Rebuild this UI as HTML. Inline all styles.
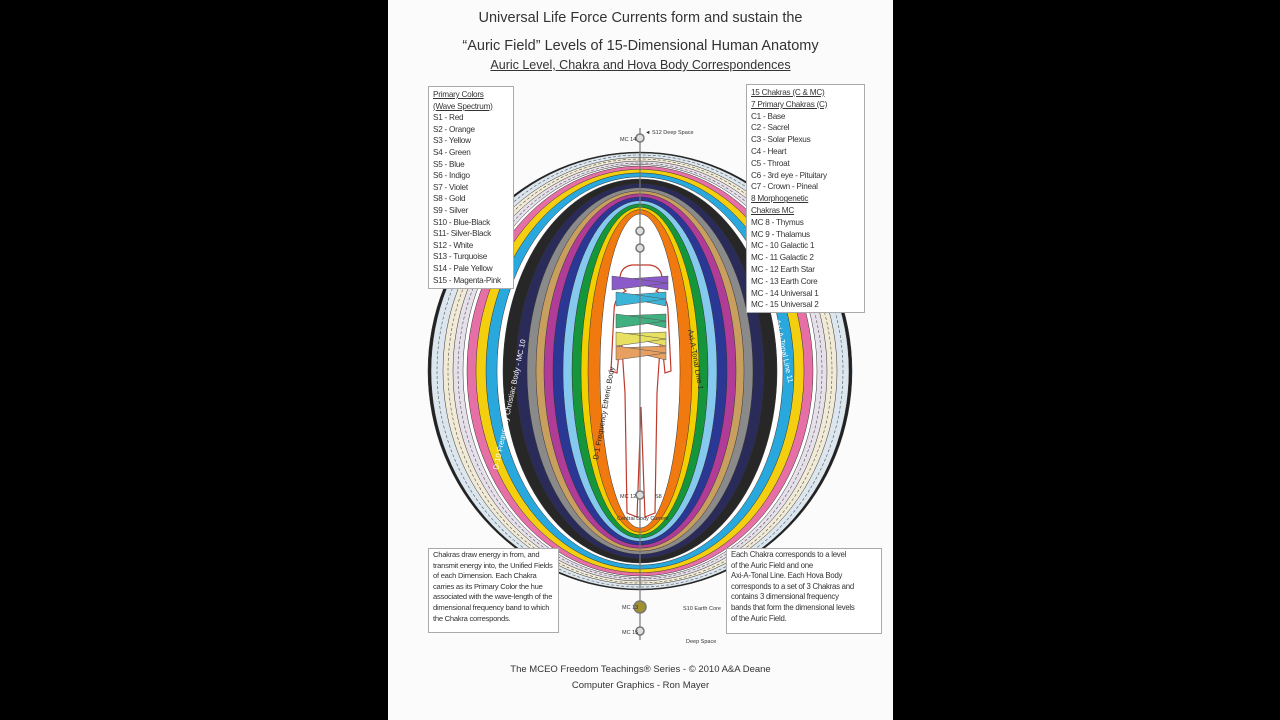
<!DOCTYPE html>
<html><head><meta charset="utf-8"><style>
body{margin:0;background:#000;width:1280px;height:720px;overflow:hidden;font-family:"Liberation Sans",sans-serif}
#pg{position:absolute;left:388px;top:0;width:505px;height:720px;background:#fbfbfb}
.t{position:absolute;left:388px;width:505px;text-align:center;color:#333}
.box{position:absolute;background:#fff;border:1px solid #aaa;font-size:8.2px;line-height:11.6px;color:#333;padding:2px 4px;box-sizing:border-box;letter-spacing:-0.25px;overflow:hidden}
u{text-decoration:underline}
</style></head><body>
<div id="pg"></div>
<div class="t" style="top:10px;font-size:14.5px">Universal Life Force Currents form and sustain the</div>
<div class="t" style="top:38px;font-size:14.5px">“Auric Field” Levels of 15-Dimensional Human Anatomy</div>
<div class="t" style="top:58px;font-size:12.5px"><u>Auric Level, Chakra and Hova Body Correspondences</u></div>
<svg style="position:absolute;left:0;top:0" width="1280" height="720">
<g stroke="#333" stroke-width="0.5">
<ellipse cx="640" cy="371" rx="212" ry="219" fill="#222"/>
<ellipse cx="640" cy="371" rx="209" ry="218" fill="#dce6ee"/>
<ellipse cx="640" cy="371" rx="197" ry="213.6" fill="#f1ead6"/>
<ellipse cx="640" cy="371" rx="187" ry="210" fill="#e6e0ea"/>
<ellipse cx="640" cy="371" rx="177" ry="206.4" fill="#fff"/>
<ellipse cx="640" cy="371" rx="173" ry="205" fill="#e670a6"/>
<ellipse cx="640" cy="371" rx="164" ry="201.7" fill="#f3cf10"/>
<ellipse cx="640" cy="371" rx="154" ry="198.1" fill="#28a8dc"/>
<ellipse cx="640" cy="371" rx="143" ry="194.1" fill="#fff"/>
<ellipse cx="640" cy="371" rx="137" ry="192" fill="#272727"/>
<ellipse cx="640" cy="371" rx="124" ry="187.3" fill="#2b2b5a"/>
<ellipse cx="640" cy="371" rx="113" ry="183.3" fill="#8a8a8a"/>
<ellipse cx="640" cy="371" rx="104" ry="180.1" fill="#c89f5e"/>
<ellipse cx="640" cy="371" rx="96" ry="177.2" fill="#b03c98"/>
<ellipse cx="640" cy="371" rx="87" ry="174" fill="#2a3794"/>
<ellipse cx="640" cy="371" rx="77" ry="170.3" fill="#86c9ef"/>
<ellipse cx="640" cy="371" rx="68" ry="167.1" fill="#16963a"/>
<ellipse cx="640" cy="371" rx="59" ry="163.8" fill="#f2d000"/>
<ellipse cx="640" cy="371" rx="52" ry="161.3" fill="#f07a10"/>
<ellipse cx="640" cy="371" rx="40" ry="157" fill="#fff"/>
</g>
<g fill="none" stroke="#555" stroke-dasharray="3 2" stroke-width="0.6">
<ellipse cx="640" cy="371" rx="203" ry="216"/>
<ellipse cx="640" cy="371" rx="192" ry="212"/>
<ellipse cx="640" cy="371" rx="182" ry="208"/>
</g>
<path d="M632 265 q-12 2 -12 14 q0 8 6 12 q-12 6 -12 20 l-3 60 l6 2 l4 -40 l4 60 l2 120 l10 4 l4 -110 l4 110 l10 -4 l2 -120 l4 -60 l4 40 l6 -2 l-3 -60 q0 -14 -12 -20 q6 -4 6 -12 q0 -12 -12 -14z" fill="none" stroke="#c0392b" stroke-width="1.2"/>
<g stroke="#555" stroke-width="0.5">
<polygon points="612,280 668,290 668,276" fill="#8a5ac8"/><polygon points="612,276 612,290 668,283" fill="#8a5ac8"/>
<polygon points="616,296 666,306 666,292" fill="#3cb4d8"/><polygon points="616,292 616,306 666,299" fill="#3cb4d8"/>
<polygon points="616,316 666,328 666,314" fill="#40b080"/><polygon points="616,314 616,328 666,321" fill="#40b080"/>
<polygon points="616,334 666,346 666,332" fill="#e8e060"/><polygon points="616,332 616,346 666,339" fill="#e8e060"/>
<polygon points="616,348 666,360 666,346" fill="#e8a060"/><polygon points="616,346 616,360 666,353" fill="#e8a060"/>
</g>
<line x1="640" y1="128" x2="640" y2="640" stroke="#777" stroke-width="1.2"/>
<g fill="#ddd" stroke="#777" stroke-width="1.5">
<circle cx="640" cy="138" r="4"/><circle cx="640" cy="231" r="4"/><circle cx="640" cy="248" r="4"/><circle cx="640" cy="495" r="4"/><circle cx="640" cy="631" r="4"/>
<circle cx="640" cy="607" r="6" fill="#a09030"/>
</g>
<g font-size="5.5" fill="#333" font-family="Liberation Sans">
<text x="645" y="134">◄ S12 Deep Space</text><text x="620" y="141">MC 14</text>
<text x="620" y="498">MC 12</text><text x="655" y="498">S8</text>
<text x="617" y="520">Central Body Current</text>
<text x="622" y="609">MC 13</text><text x="683" y="610">S10 Earth Core</text>
<text x="622" y="634">MC 15</text><text x="686" y="643">Deep Space</text>
</g>
<g font-size="7.5" fill="#222" font-family="Liberation Sans">
<text transform="translate(598,460) rotate(-80)">D-1 Frequency  Etheric Body</text>
<text transform="translate(688,330) rotate(80)">Axi-A-Tonal Line 1</text>
<text transform="translate(498,470) rotate(-78)" fill="#fff">D-10 Frequency  Christiac Body - MC 10</text>
<text transform="translate(775,320) rotate(78)" fill="#fff">Axi-A-Tonal Line 11</text>
</g>
</svg>
<div class="box" style="left:428px;top:86px;width:86px;height:203px"><u>Primary Colors<br>(Wave Spectrum)</u><br>S1 - Red<br>S2 - Orange<br>S3 - Yellow<br>S4 - Green<br>S5 - Blue<br>S6 - Indigo<br>S7 - Violet<br>S8 - Gold<br>S9 - Silver<br>S10 - Blue-Black<br>S11- Silver-Black<br>S12 - White<br>S13 - Turquoise<br>S14 - Pale Yellow<br>S15 - Magenta-Pink</div>
<div class="box" style="left:746px;top:84px;width:119px;height:229px;line-height:11.8px"><u>15 Chakras (C &amp; MC)</u><br><u>7 Primary Chakras (C)</u><br>C1 - Base<br>C2 - Sacrel<br>C3 - Solar Plexus<br>C4 - Heart<br>C5 - Throat<br>C6 - 3rd eye - Pituitary<br>C7 - Crown - Pineal<br><u>8 Morphogenetic<br>Chakras MC</u><br>MC 8 - Thymus<br>MC 9 - Thalamus<br>MC - 10 Galactic 1<br>MC - 11 Galactic 2<br>MC - 12 Earth Star<br>MC - 13 Earth Core<br>MC - 14 Universal 1<br>MC - 15 Universal 2</div>
<div class="box" style="left:428px;top:548px;width:131px;height:85px;font-size:7.6px;line-height:10.6px;padding:1px 4px;white-space:nowrap">Chakras draw energy in from, and<br>transmit energy into, the Unified Fields<br>of each Dimension. Each Chakra<br>carries as its Primary Color the hue<br>associated with the wave-length of the<br>dimensional frequency band to which<br>the Chakra corresponds.</div>
<div class="box" style="left:726px;top:548px;width:156px;height:86px;font-size:7.8px;line-height:10.6px;padding:1px 4px;white-space:nowrap">Each Chakra corresponds to a level<br>of the Auric Field and one<br>Axi-A-Tonal Line. Each Hova Body<br>corresponds to a set of 3 Chakras and<br>contains 3 dimensional frequency<br>bands that form the dimensional levels<br>of the Auric Field.</div>
<div class="t" style="top:664px;font-size:9.5px">The MCEO Freedom Teachings®  Series - © 2010 A&amp;A Deane</div>
<div class="t" style="top:680px;font-size:9.5px">Computer Graphics - Ron Mayer</div>
</body></html>
